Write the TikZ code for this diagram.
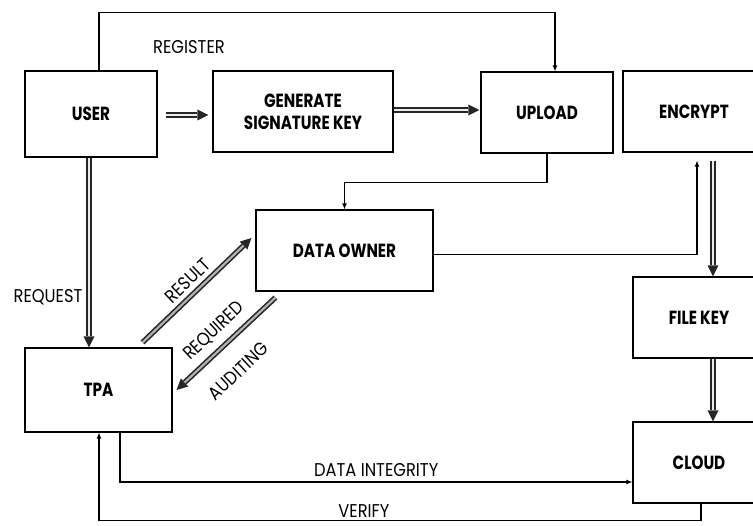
\documentclass[tikz,border=0pt]{standalone}
\usepackage{fontspec}
\usepackage{tikz}
\usetikzlibrary{arrows.meta,positioning}
\newfontfamily\boxfont[FakeStretch=0.8]{Poppins}
\newfontfamily\lblfont[FakeStretch=0.88]{Poppins}

\begin{document}
\begin{tikzpicture}[
    x=1pt,y=-1pt,
    box/.style={draw, line width=1.1pt, inner sep=0pt,
        font=\boxfont\bfseries\fontsize{19}{22}\selectfont, align=center},
    lbl/.style={font=\lblfont\fontsize{18.5}{20}\selectfont, inner sep=1pt},
    sgl/.style={line width=1.2pt, -{Latex[length=6pt,width=5pt]}},
    dbl/.style={draw=black!85, line width=5.4pt, -{Triangle[length=11pt,width=11pt,line width=0pt]},
        postaction={draw=#1, line width=2.2pt, arrows=-, shorten >=11pt}},
    dbl/.default=gray!15]
    \useasboundingbox (0,0) rectangle (753,526);
       \node[box, minimum width=132, minimum height=86] (user) at (91,114) {USER};
       \node[box, minimum width=180, minimum height=81] (gen) at (303,111.5) {GENERATE\\SIGNATURE KEY};
       \node[box, minimum width=132, minimum height=81] (upload) at (547,112.5) {UPLOAD};
       \node[box, minimum width=142, minimum height=81] (encrypt) at (694,111.5) {ENCRYPT};
       \node[box, minimum width=177, minimum height=81] (owner) at (344.5,250.5) {DATA OWNER};
       \node[box, minimum width=132, minimum height=81] (filekey) at (699,317.5) {FILE KEY};
       \node[box, minimum width=147, minimum height=84] (tpa) at (98.5,390) {TPA};
       \node[box, minimum width=132, minimum height=81] (cloud) at (699,462.5) {CLOUD};

       \node[lbl] (register) at (189,47) {REGISTER};
       \node[lbl] (request) at (48,297) {REQUEST};

       % top row
       \draw[sgl] ([xshift=8pt]user.north) -- ++(0,-58) -| ([xshift=8pt]upload.north);
       \draw[dbl] ([xshift=8pt,yshift=-1pt]user.east) -- ([xshift=-4pt,yshift=-1pt]user.east -| gen.west);
       \draw[dbl] ([yshift=1.5pt]gen.east) -- ([xshift=-1pt,yshift=1.5pt]gen.east -| upload.west);
       \draw[sgl] (upload.south) -- ++(0,29) -| (owner.north);
       % right column
       \draw[sgl] ([yshift=-4pt]owner.east) -| ([xshift=3pt,yshift=-8pt]encrypt.south);
       \draw[dbl] ([xshift=19pt,yshift=-8pt]encrypt.south) -- ([xshift=14pt]filekey.north);
       \draw[dbl] ([xshift=14pt]filekey.south) -- ([xshift=14pt]cloud.north);
       % tpa
       \draw[dbl] ([xshift=-2pt]user.south) -- ([xshift=-2pt]user.south |- tpa.north);
       \draw[dbl=gray!60] ([xshift=-30pt,yshift=5pt]tpa.north east) -- node[lbl, sloped, above=3pt] {RESULT}
            ([xshift=-4pt,yshift=12.5pt]owner.west);
       \draw[dbl=gray!60] ([xshift=20pt,yshift=-6pt]owner.south west) --
            node[lbl, sloped, pos=0.5, above=6pt] {REQUIRED}
            node[lbl, sloped, pos=0.57, below=18pt] {AUDITING}
            ([xshift=4pt]tpa.east);
       % bottom
       \draw[sgl] ([xshift=21.5pt]tpa.south) |- node[lbl, pos=0.75, above=4pt] {DATA INTEGRITY}
            ([yshift=-19.5pt]cloud.west);
       \draw[sgl] ([xshift=2pt]cloud.south) -- ++(0,17) -| node[lbl, pos=0.28, above=1pt] {VERIFY}
            ([xshift=0.5pt]tpa.south);
    \end{tikzpicture}
\end{document}
